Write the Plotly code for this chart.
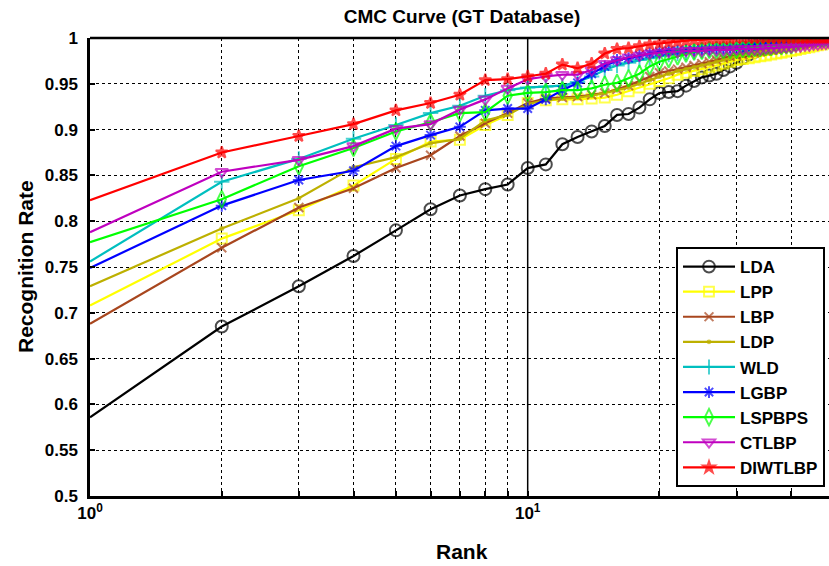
import math
import plotly.graph_objects as go

ranks = list(range(1, 51))

lda = [0.586, 0.685, 0.729, 0.762, 0.790, 0.813, 0.828, 0.835, 0.840, 0.858,
       0.862, 0.884, 0.892, 0.898, 0.904, 0.916, 0.917, 0.924, 0.933, 0.940,
       0.941, 0.942, 0.948, 0.953, 0.957, 0.959, 0.961, 0.965, 0.969, 0.973,
       0.978, 0.982, 0.985, 0.988, 0.990, 0.992, 0.993, 0.994, 0.995, 0.996,
       0.997, 0.998, 0.998, 0.999, 0.999, 1.0, 1.0, 1.0, 1.0, 1.0]
lpp = [0.708, 0.781, 0.812, 0.839, 0.868, 0.887, 0.889, 0.905, 0.916, 0.929,
       0.932, 0.933, 0.933, 0.934, 0.935, 0.938, 0.942, 0.946, 0.950, 0.953,
       0.956, 0.960, 0.962, 0.964, 0.966, 0.968, 0.970, 0.972, 0.974, 0.976,
       0.977, 0.978, 0.979, 0.980, 0.981, 0.982, 0.983, 0.984, 0.985, 0.986,
       0.987, 0.988, 0.989, 0.990, 0.991, 0.992, 0.993, 0.994, 0.995, 0.996]
lbp = [0.688, 0.771, 0.815, 0.836, 0.858, 0.872, 0.893, 0.907, 0.918, 0.929,
       0.934, 0.935, 0.936, 0.938, 0.940, 0.944, 0.948, 0.953, 0.958, 0.962,
       0.964, 0.966, 0.968, 0.970, 0.972, 0.974, 0.976, 0.978, 0.980, 0.981,
       0.982, 0.983, 0.984, 0.985, 0.986, 0.987, 0.988, 0.989, 0.990, 0.991,
       0.992, 0.993, 0.994, 0.994, 0.995, 0.995, 0.996, 0.996, 0.997, 0.997]
ldp = [0.729, 0.792, 0.825, 0.859, 0.870, 0.885, 0.890, 0.910, 0.916, 0.928,
       0.932, 0.934, 0.935, 0.937, 0.940, 0.943, 0.946, 0.950, 0.954, 0.958,
       0.961, 0.964, 0.966, 0.968, 0.970, 0.972, 0.974, 0.976, 0.978, 0.980,
       0.981, 0.982, 0.983, 0.984, 0.985, 0.986, 0.987, 0.988, 0.989, 0.990,
       0.991, 0.992, 0.993, 0.994, 0.995, 0.996, 0.997, 0.997, 0.998, 0.998]
wld = [0.756, 0.843, 0.868, 0.890, 0.905, 0.918, 0.926, 0.937, 0.943, 0.946,
       0.947, 0.948, 0.952, 0.958, 0.965, 0.970, 0.973, 0.976, 0.978, 0.980,
       0.982, 0.983, 0.984, 0.985, 0.986, 0.987, 0.988, 0.989, 0.990, 0.991,
       0.992, 0.993, 0.994, 0.995, 0.996, 0.996, 0.997, 0.997, 0.998, 0.998,
       0.999, 0.999, 1.0, 1.0, 1.0, 1.0, 1.0, 1.0, 1.0, 1.0]
lgbp = [0.749, 0.817, 0.845, 0.855, 0.882, 0.894, 0.903, 0.921, 0.923, 0.923,
        0.933, 0.943, 0.951, 0.961, 0.969, 0.976, 0.978, 0.981, 0.983, 0.985,
        0.986, 0.986, 0.987, 0.987, 0.988, 0.988, 0.989, 0.989, 0.990, 0.990,
        0.991, 0.992, 0.993, 0.994, 0.995, 0.996, 0.997, 0.998, 0.999, 0.999,
        1.0, 1.0, 1.0, 1.0, 1.0, 1.0, 1.0, 1.0, 1.0, 1.0]
lspbps = [0.777, 0.824, 0.860, 0.880, 0.898, 0.908, 0.918, 0.919, 0.937, 0.940,
          0.941, 0.943, 0.943, 0.945, 0.949, 0.951, 0.956, 0.961, 0.969, 0.974,
          0.977, 0.980, 0.983, 0.985, 0.986, 0.987, 0.987, 0.987, 0.987, 0.987,
          0.988, 0.988, 0.989, 0.989, 0.990, 0.990, 0.991, 0.991, 0.992, 0.992,
          0.995, 0.998, 1.0, 1.0, 1.0, 1.0, 1.0, 1.0, 1.0, 1.0]
ctlbp = [0.788, 0.854, 0.867, 0.882, 0.901, 0.906, 0.922, 0.933, 0.945, 0.955,
         0.958, 0.960, 0.960, 0.965, 0.972, 0.976, 0.979, 0.981, 0.983, 0.984,
         0.985, 0.985, 0.986, 0.986, 0.986, 0.987, 0.987, 0.987, 0.987, 0.988,
         0.988, 0.988, 0.988, 0.988, 0.989, 0.989, 0.989, 0.990, 0.990, 0.990,
         0.991, 0.991, 0.992, 0.992, 0.993, 0.993, 0.994, 0.994, 0.994, 0.995]
diwtlbp = [0.823, 0.875, 0.893, 0.906, 0.921, 0.929, 0.938, 0.954, 0.955, 0.958,
           0.961, 0.971, 0.967, 0.972, 0.983, 0.988, 0.989, 0.991, 0.993, 0.994,
           0.995, 0.996, 0.997, 0.998, 0.998, 0.999, 0.999, 0.999, 0.999, 1.0,
           1.0, 1.0, 1.0, 1.0, 1.0, 1.0, 1.0, 1.0, 1.0, 1.0,
           1.0, 1.0, 1.0, 1.0, 1.0, 1.0, 1.0, 1.0, 1.0, 1.0]

names = ["LDA", "LPP", "LBP", "LDP", "WLD", "LGBP", "LSPBPS", "CTLBP", "DIWTLBP"]
series = [lda, lpp, lbp, ldp, wld, lgbp, lspbps, ctlbp, diwtlbp]
colors = ["#000000", "#FFFF00", "#A8461E", "#BDB000", "#00BFBF",
          "#0000FF", "#00FF00", "#BF00BF", "#FF0000"]
symbols = ["circle-open", "square-open", "x-thin-open", "circle", "cross-thin-open",
           "asterisk-open", "diamond-tall-open", "triangle-down-open", "star"]
sizes = [12, 10, 9, 3, 11, 10, 12, 11, 9]

y_ticks = [0.5, 0.55, 0.6, 0.65, 0.7, 0.75, 0.8, 0.85, 0.9, 0.95, 1.0]
y_ticktext = ["0.5", "0.55", "0.6", "0.65", "0.7", "0.75", "0.8", "0.85", "0.9", "0.95", "1"]
x_major = [1, 10]
x_ticktext = ["10<sup>0</sup>", "10<sup>1</sup>"]
x_minor = [2, 3, 4, 5, 6, 7, 8, 9, 20, 30, 40]

FONT = "Liberation Sans, Arial, sans-serif"

fig = go.Figure()
for name, ys, c, sym, s in zip(names, series, colors, symbols, sizes):
    msize = [0] + [s] * (len(ranks) - 1)
    fig.add_trace(go.Scatter(
        x=ranks, y=ys, name=name, mode="lines+markers",
        line=dict(color=c, width=2.2),
        marker=dict(symbol=sym, size=msize, color=c, line=dict(color=c, width=2)),
    ))

fig.update_layout(
    width=829, height=566,
    margin=dict(l=90, r=0, t=38, b=70),
    paper_bgcolor="white", plot_bgcolor="white",
    font=dict(family=FONT, color="black"),
    title=dict(text="<b>CMC Curve (GT Database)</b>", x=462 / 829, xanchor="center",
               y=1 - 16 / 566, yanchor="middle", font=dict(size=19, family=FONT, color="black")),
    xaxis=dict(type="log", range=[0, math.log10(48.8)],
               tickmode="array", tickvals=x_major, ticktext=x_ticktext,
               showgrid=True, gridcolor="black", griddash="dot", gridwidth=1,
               ticks="inside", ticklen=5, tickcolor="black", tickwidth=1.5,
               minor=dict(tickmode="array", tickvals=x_minor, showgrid=True,
                          gridcolor="black", griddash="dot", gridwidth=1,
                          ticks="inside", ticklen=5, tickcolor="black", tickwidth=1.5),
               showline=True, linecolor="black", linewidth=2.5,
               tickfont=dict(size=17, family=FONT, color="black", weight="bold"),
               zeroline=False),
    yaxis=dict(range=[0.5, 1.0], tickmode="array", tickvals=y_ticks, ticktext=y_ticktext,
               showgrid=True, gridcolor="black", griddash="dot", gridwidth=1,
               ticks="inside", ticklen=5, tickcolor="black", tickwidth=1.5,
               showline=True, linecolor="black", linewidth=2.5,
               tickfont=dict(size=17, family=FONT, color="black", weight="bold"),
               ticklabelstandoff=6, zeroline=False),
    legend=dict(x=(825 - 90) / 739, xanchor="right", y=(496 - 487) / 458, yanchor="bottom",
                bgcolor="white", bordercolor="black", borderwidth=2,
                font=dict(size=17, family=FONT, color="black", weight="bold"),
                tracegroupgap=0, itemwidth=52),
    showlegend=True,
)

fig.add_shape(type="line", xref="paper", yref="paper", x0=0, x1=1, y0=1, y1=1,
              line=dict(color="black", width=2.5))
fig.add_shape(type="line", xref="x", yref="paper", x0=10, x1=10, y0=0, y1=1,
              line=dict(color="black", width=1.5), layer="below")

fig.add_annotation(text="<b>Recognition Rate</b>", xref="paper", yref="paper",
                   x=-(90 - 25) / 739, y=0.5, textangle=-90, showarrow=False,
                   xanchor="center", yanchor="middle",
                   font=dict(size=21, family=FONT, color="black"))
fig.add_annotation(text="<b>Rank</b>", xref="paper", yref="paper",
                   x=(462 - 90) / 739, y=-(551 - 496) / 458, showarrow=False,
                   xanchor="center", yanchor="middle",
                   font=dict(size=21, family=FONT, color="black"))

fig.write_html("out.html")
